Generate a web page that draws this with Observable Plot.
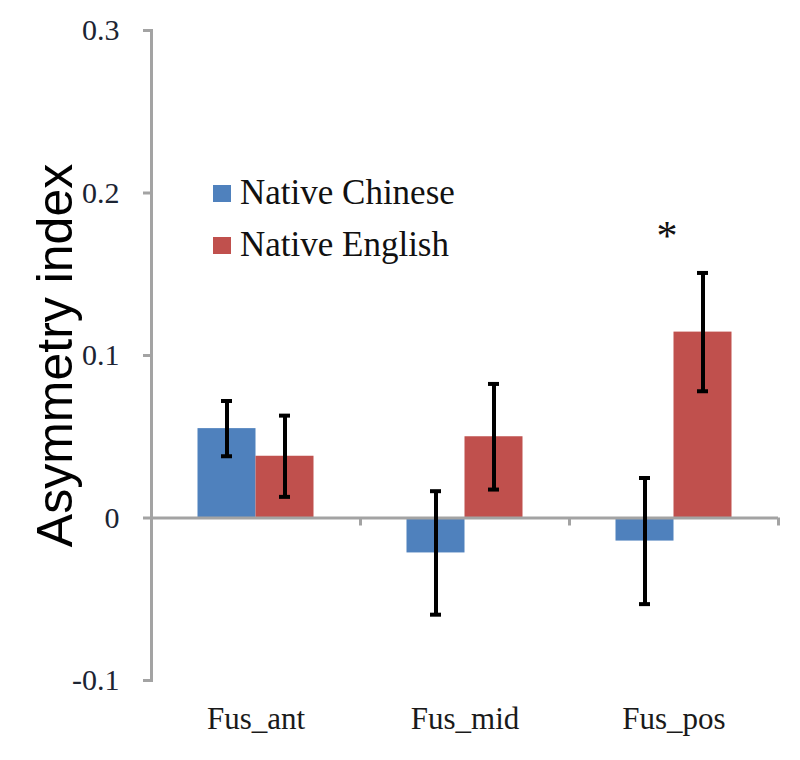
<!DOCTYPE html>
<html>
<head>
<meta charset="utf-8">
<script src="https://cdn.jsdelivr.net/npm/d3@7"></script>
<script src="https://cdn.jsdelivr.net/npm/@observablehq/plot@0.6"></script>
<style>
  html, body { margin: 0; padding: 0; background: #fff; }
  #wrap { position: relative; width: 800px; height: 760px; }
  #legend { position: absolute; left: 213px; top: 167px; font-family: "Liberation Serif", "Times New Roman", serif; font-size: 35px; color: #111; }
  #legend .row { display: flex; align-items: center; height: 52px; }
  #legend .sw { width: 18px; height: 17px; margin-right: 9px; }
</style>
</head>
<body>
<div id="wrap"><div id="legend"></div></div>
<script>
const categories = ["Fus_ant", "Fus_mid", "Fus_pos"];
const groups = ["Native Chinese", "Native English"];
const chineseMean = [0.055, -0.0215, -0.0142];
const chineseErr = [0.017, 0.038, 0.0388];
const englishMean = [0.038, 0.050, 0.1144];
const englishErr = [0.025, 0.0325, 0.0364];
const significance = ["", "", "*"];
const yTicks = [-0.1, 0, 0.1, 0.2, 0.3];
const colors = ["#4F81BD", "#C0504D"];

const chinese = categories.map((c, i) => ({cat: c, group: groups[0], mean: chineseMean[i], err: chineseErr[i]}));
const english = categories.map((c, i) => ({cat: c, group: groups[1], mean: englishMean[i], err: englishErr[i], sig: significance[i]}));

const axisGray = "#a3a3a3";
const serif = "'Liberation Serif', 'Times New Roman', serif";

const chart = Plot.plot({
  width: 800,
  height: 760,
  marginLeft: 151,
  marginRight: 22,
  marginTop: 30,
  marginBottom: 80,
  style: {background: "#fff", overflow: "visible"},
  x: {type: "band", domain: categories, padding: 0},
  y: {domain: [-0.1, 0.3]},
  marks: [
    Plot.barY(chinese, {x: "cat", y1: 0, y2: "mean", fill: colors[0], insetLeft: 46.5, insetRight: 104.5}),
    Plot.barY(english, {x: "cat", y1: 0, y2: "mean", fill: colors[1], insetLeft: 104.5, insetRight: 46.5}),
    Plot.frame({anchor: "left", stroke: axisGray, strokeWidth: 3}),
    Plot.ruleY([0], {stroke: axisGray, strokeWidth: 3}),
    Plot.ruleX(categories, {x: d => d, dx: 104.5, y1: 0, y2: 0, insetBottom: -8, stroke: axisGray, strokeWidth: 3}),
    Plot.axisY(yTicks, {
      tickSize: 8, tickPadding: 24, stroke: axisGray, strokeWidth: 3,
      tickFormat: d => d === 0 ? "0" : d.toFixed(1).replace("\u2212", "-"),
      fontSize: 30, fontFamily: serif, fill: "#1c2433", label: null
    }),
    Plot.axisX({tickSize: 0, tickPadding: 26, fontSize: 31, fontFamily: serif, fill: "#1a1a1a", label: null}),
    // error bars
    Plot.ruleX(chinese, {x: "cat", dx: -29, y1: d => d.mean - d.err, y2: d => d.mean + d.err, stroke: "#000", strokeWidth: 4}),
    Plot.ruleX(english, {x: "cat", dx: 29, y1: d => d.mean - d.err, y2: d => d.mean + d.err, stroke: "#000", strokeWidth: 4}),
    Plot.tickY(chinese, {x: "cat", y: d => d.mean - d.err, insetLeft: 70, insetRight: 128, stroke: "#000", strokeWidth: 4}),
    Plot.tickY(chinese, {x: "cat", y: d => d.mean + d.err, insetLeft: 70, insetRight: 128, stroke: "#000", strokeWidth: 4}),
    Plot.tickY(english, {x: "cat", y: d => d.mean - d.err, insetLeft: 128, insetRight: 70, stroke: "#000", strokeWidth: 4}),
    Plot.tickY(english, {x: "cat", y: d => d.mean + d.err, insetLeft: 128, insetRight: 70, stroke: "#000", strokeWidth: 4}),
    // significance
    Plot.text(english, {x: "cat", y: d => d.mean + d.err, text: "sig", dx: -7, dy: -36, fontSize: 42, fontFamily: serif, fill: "#111"}),
    // y-axis title
    Plot.text(["Asymmetry index"], {frameAnchor: "left", textAnchor: "middle", rotate: -90, dx: -96, fontSize: 50, fontFamily: "'Liberation Sans', Arial, sans-serif", fill: "#000"})
  ]
});

const wrap = document.getElementById("wrap");
wrap.insertBefore(chart, wrap.firstChild);

const legend = document.getElementById("legend");
groups.forEach((g, i) => {
  const row = document.createElement("div");
  row.className = "row";
  const sw = document.createElement("div");
  sw.className = "sw";
  sw.style.background = colors[i];
  const t = document.createElement("span");
  t.textContent = g;
  row.appendChild(sw);
  row.appendChild(t);
  legend.appendChild(row);
});
</script>
</body>
</html>
